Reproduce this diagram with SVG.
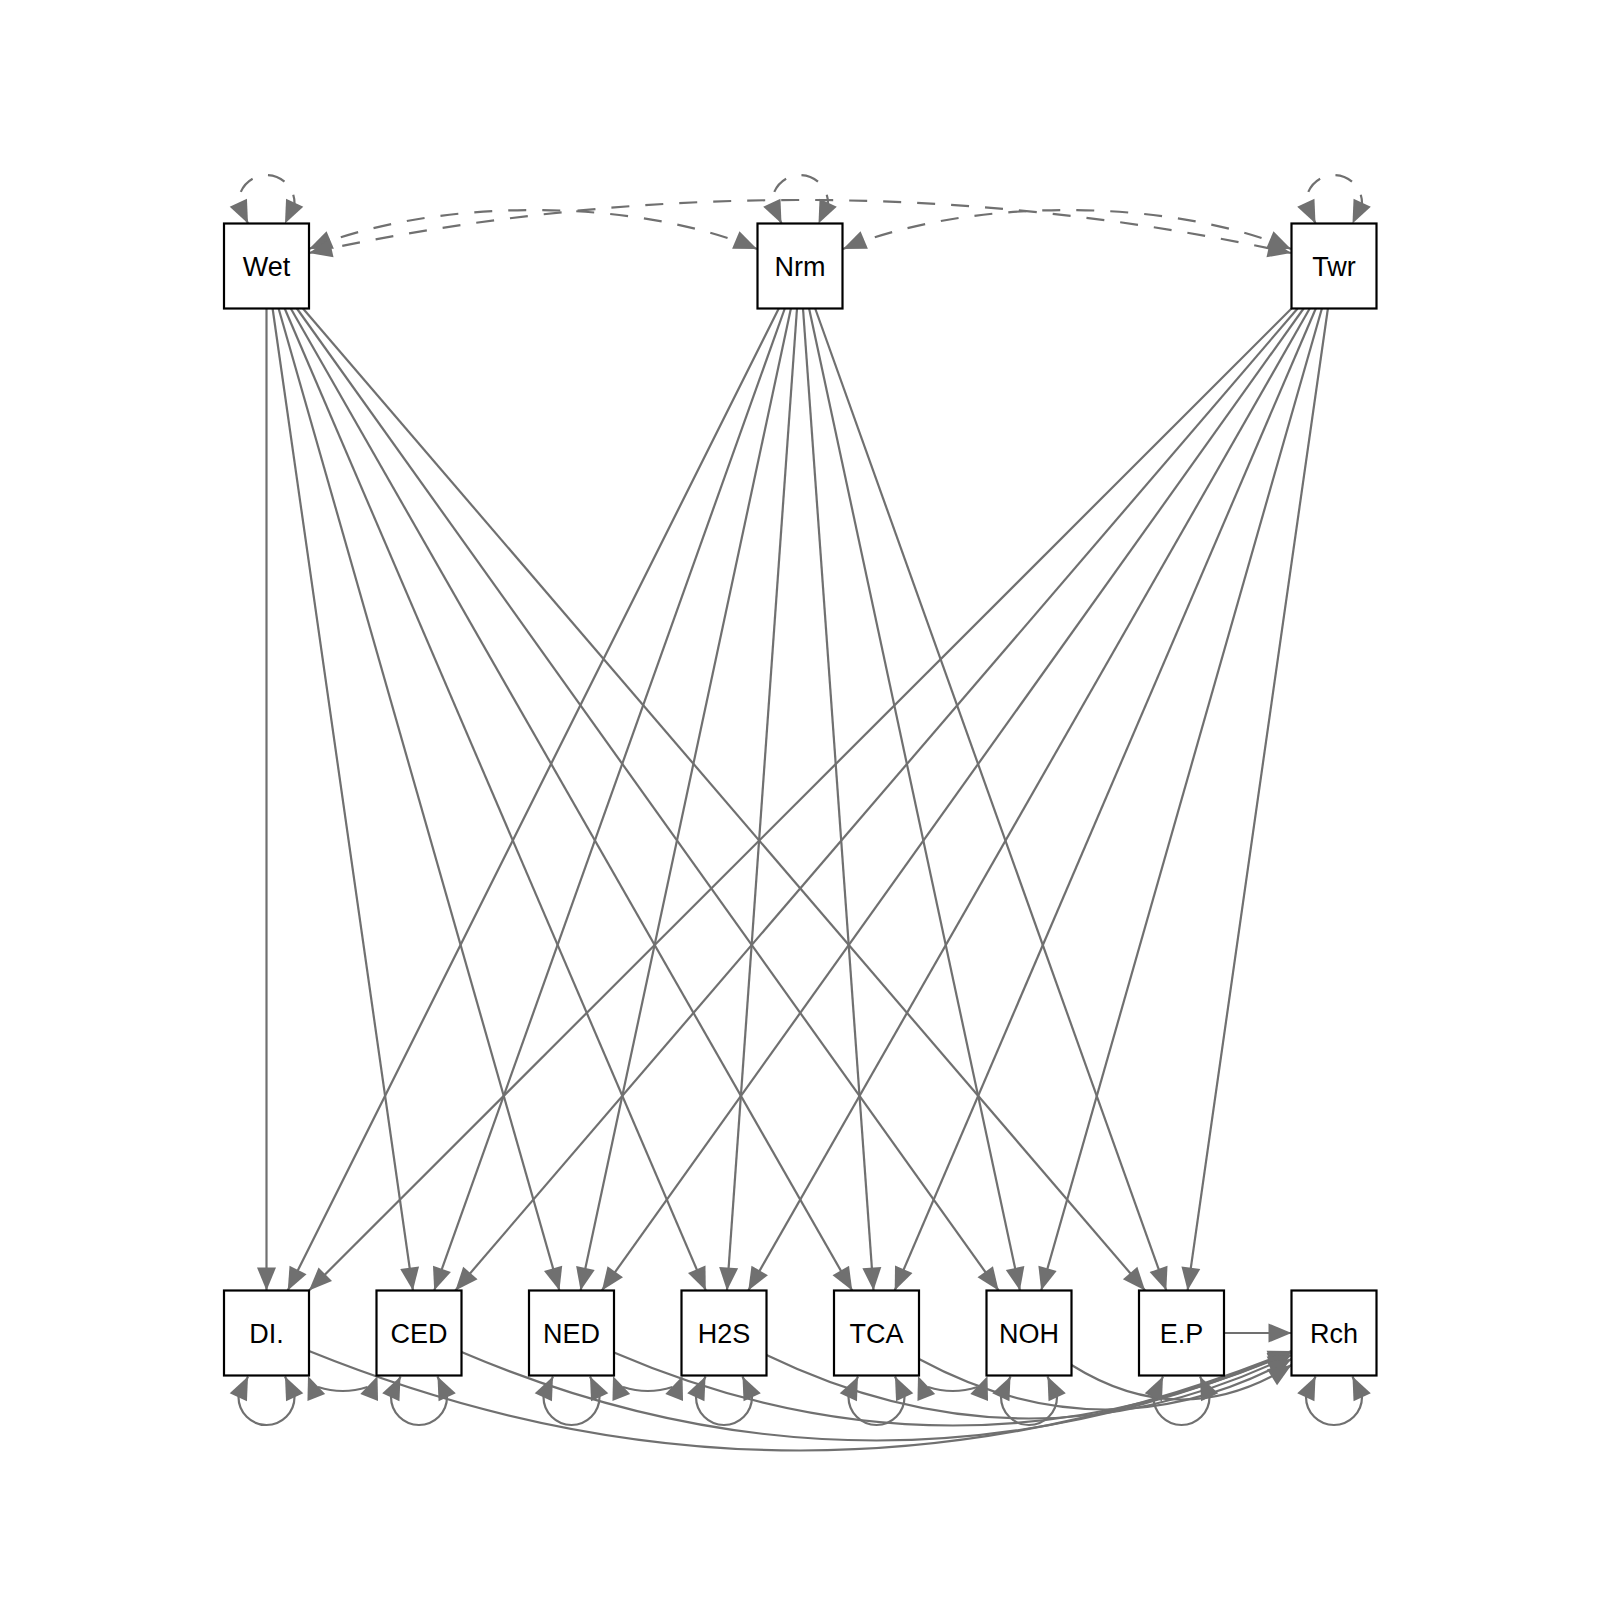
<svg xmlns="http://www.w3.org/2000/svg" xmlns:xlink="http://www.w3.org/1999/xlink" width="1600" height="1600" viewBox="0 0 1600 1600">
<style>
.e{stroke:#707070;stroke-width:2.2;fill:none}
.s{marker-end:url(#arr)}
.b{marker-start:url(#arrs);marker-end:url(#arr)}
.d{stroke-dasharray:18 16}
.ah{fill:#707070;stroke:none}
.n rect{fill:#ffffff;stroke:#000000;stroke-width:2.2}
.n text{font-family:"Liberation Sans",Arial,sans-serif;font-size:27px;text-anchor:middle;fill:#000000}
</style>
<defs>
<path id="ah" d="M0,0 L-23,-9.5 L-23,9.5 Z"/>
<marker id="arr" markerUnits="userSpaceOnUse" markerWidth="24" markerHeight="20" viewBox="-23.5 -10 24 20" refX="0" refY="0" orient="auto"><path d="M0,0 L-23,-9.5 L-23,9.5 Z" fill="#707070"/></marker>
<marker id="arrs" markerUnits="userSpaceOnUse" markerWidth="24" markerHeight="20" viewBox="-23.5 -10 24 20" refX="0" refY="0" orient="auto-start-reverse"><path d="M0,0 L-23,-9.5 L-23,9.5 Z" fill="#707070"/></marker>
</defs>
<rect x="0" y="0" width="1600" height="1600" fill="#ffffff"/>
<g id="connectors">
<!-- Wet -->
<line class="e s" x1="266.5" y1="308.5" x2="266.5" y2="1290.5"/>
<line class="e s" x1="272.6" y1="308.5" x2="412.9" y2="1290.5"/>
<line class="e s" x1="278.6" y1="308.5" x2="559.4" y2="1290.5"/>
<line class="e s" x1="284.7" y1="308.5" x2="705.8" y2="1290.5"/>
<line class="e s" x1="290.8" y1="308.5" x2="852.2" y2="1290.5"/>
<line class="e s" x1="296.9" y1="308.5" x2="998.6" y2="1290.5"/>
<line class="e s" x1="303.0" y1="308.5" x2="1145.1" y2="1290.5"/>
<!-- Nrm -->
<line class="e s" x1="778.75" y1="308.5" x2="287.75" y2="1290.5"/>
<line class="e s" x1="784.8" y1="308.5" x2="434.2" y2="1290.5"/>
<line class="e s" x1="790.9" y1="308.5" x2="580.6" y2="1290.5"/>
<line class="e s" x1="797.0" y1="308.5" x2="727.0" y2="1290.5"/>
<line class="e s" x1="803.0" y1="308.5" x2="873.5" y2="1290.5"/>
<line class="e s" x1="809.1" y1="308.5" x2="1019.9" y2="1290.5"/>
<line class="e s" x1="815.2" y1="308.5" x2="1166.3" y2="1290.5"/>
<!-- Twr -->
<line class="e s" x1="1291.5" y1="308.5" x2="309.0" y2="1290.5"/>
<line class="e s" x1="1297.6" y1="308.5" x2="455.4" y2="1290.5"/>
<line class="e s" x1="1303.6" y1="308.5" x2="601.9" y2="1290.5"/>
<line class="e s" x1="1309.7" y1="308.5" x2="748.3" y2="1290.5"/>
<line class="e s" x1="1315.8" y1="308.5" x2="894.7" y2="1290.5"/>
<line class="e s" x1="1321.9" y1="308.5" x2="1041.2" y2="1290.5"/>
<line class="e s" x1="1327.9" y1="308.5" x2="1187.6" y2="1290.5"/>
<!-- to Rch -->
<line class="e s" x1="1224" y1="1333" x2="1291.5" y2="1333"/>
<path class="e s" d="M309,1351 Q800.25,1550 1291.5,1351"/>
<path class="e s" d="M461.5,1352 Q876.5,1529 1291.5,1352"/>
<path class="e s" d="M614,1352.5 Q952.75,1498.5 1291.5,1352.5"/>
<path class="e s" d="M766.5,1355 Q1029,1482 1291.5,1355"/>
<path class="e s" d="M919,1359 Q1105.25,1460 1291.5,1359"/>
<path class="e s" d="M1071.5,1365 Q1181.5,1434 1291.5,1365"/>
<!-- top covariances (dashed) -->
<path class="e b d" d="M309,249 C433,197 633,197 757,249"/>
<path class="e b d" d="M309,253 C630,182.3 970,182.3 1291,253"/>
<path class="e b d" d="M843,249 C967,197 1167,197 1291,249"/>
<!-- top variances (dashed) -->
<path class="e b d" d="M248,223.5 L238.5,203 A28,28 0 0 1 294.5,203 L285,223.5"/>
<path class="e b d" d="M781.5,223.5 L772,203 A28,28 0 0 1 828,203 L818.5,223.5"/>
<path class="e b d" d="M1315.5,223.5 L1306,203 A28,28 0 0 1 1362,203 L1352.5,223.5"/>
<!-- bottom variances -->
<path class="e b" d="M248,1376.5 L238.5,1397 A28,28 0 0 0 294.5,1397 L285,1376.5"/>
<path class="e b" d="M400.5,1376.5 L391,1397 A28,28 0 0 0 447,1397 L437.5,1376.5"/>
<path class="e b" d="M553,1376.5 L543.5,1397 A28,28 0 0 0 599.5,1397 L590,1376.5"/>
<path class="e b" d="M705.5,1376.5 L696,1397 A28,28 0 0 0 752,1397 L742.5,1376.5"/>
<path class="e b" d="M858,1376.5 L848.5,1397 A28,28 0 0 0 904.5,1397 L895,1376.5"/>
<path class="e b" d="M1010.5,1376.5 L1001,1397 A28,28 0 0 0 1057,1397 L1047.5,1376.5"/>
<path class="e b" d="M1163,1376.5 L1153.5,1397 A28,28 0 0 0 1209.5,1397 L1200,1376.5"/>
<path class="e b" d="M1315.5,1376.5 L1306,1397 A28,28 0 0 0 1362,1397 L1352.5,1376.5"/>
<!-- bottom covariances -->
<path class="e" d="M318,1387 Q342.75,1395 367.5,1387"/>
<use class="ah" href="#ah" xlink:href="#ah" transform="translate(308 1376) rotate(-111.2)"/>
<use class="ah" href="#ah" xlink:href="#ah" transform="translate(377.5 1376) rotate(-68.8)"/>
<path class="e" d="M623,1387 Q647.75,1395 672.5,1387"/>
<use class="ah" href="#ah" xlink:href="#ah" transform="translate(613 1376) rotate(-111.2)"/>
<use class="ah" href="#ah" xlink:href="#ah" transform="translate(682.5 1376) rotate(-68.8)"/>
<path class="e" d="M928,1387 Q952.75,1395 977.5,1387"/>
<use class="ah" href="#ah" xlink:href="#ah" transform="translate(918 1376) rotate(-111.2)"/>
<use class="ah" href="#ah" xlink:href="#ah" transform="translate(987.5 1376) rotate(-68.8)"/>
</g>
<g id="node-Wet" class="n"><rect x="224" y="223.5" width="85" height="85"/><text x="266.5" y="275.7">Wet</text></g>
<g id="node-Nrm" class="n"><rect x="757.5" y="223.5" width="85" height="85"/><text x="800" y="275.7">Nrm</text></g>
<g id="node-Twr" class="n"><rect x="1291.5" y="223.5" width="85" height="85"/><text x="1334" y="275.7">Twr</text></g>
<g id="node-DI" class="n"><rect x="224" y="1290.5" width="85" height="85"/><text x="266.5" y="1342.7">DI.</text></g>
<g id="node-CED" class="n"><rect x="376.5" y="1290.5" width="85" height="85"/><text x="419" y="1342.7">CED</text></g>
<g id="node-NED" class="n"><rect x="529" y="1290.5" width="85" height="85"/><text x="571.5" y="1342.7">NED</text></g>
<g id="node-H2S" class="n"><rect x="681.5" y="1290.5" width="85" height="85"/><text x="724" y="1342.7">H2S</text></g>
<g id="node-TCA" class="n"><rect x="834" y="1290.5" width="85" height="85"/><text x="876.5" y="1342.7">TCA</text></g>
<g id="node-NOH" class="n"><rect x="986.5" y="1290.5" width="85" height="85"/><text x="1029" y="1342.7">NOH</text></g>
<g id="node-EP" class="n"><rect x="1139" y="1290.5" width="85" height="85"/><text x="1181.5" y="1342.7">E.P</text></g>
<g id="node-Rch" class="n"><rect x="1291.5" y="1290.5" width="85" height="85"/><text x="1334" y="1342.7">Rch</text></g>
</svg>
